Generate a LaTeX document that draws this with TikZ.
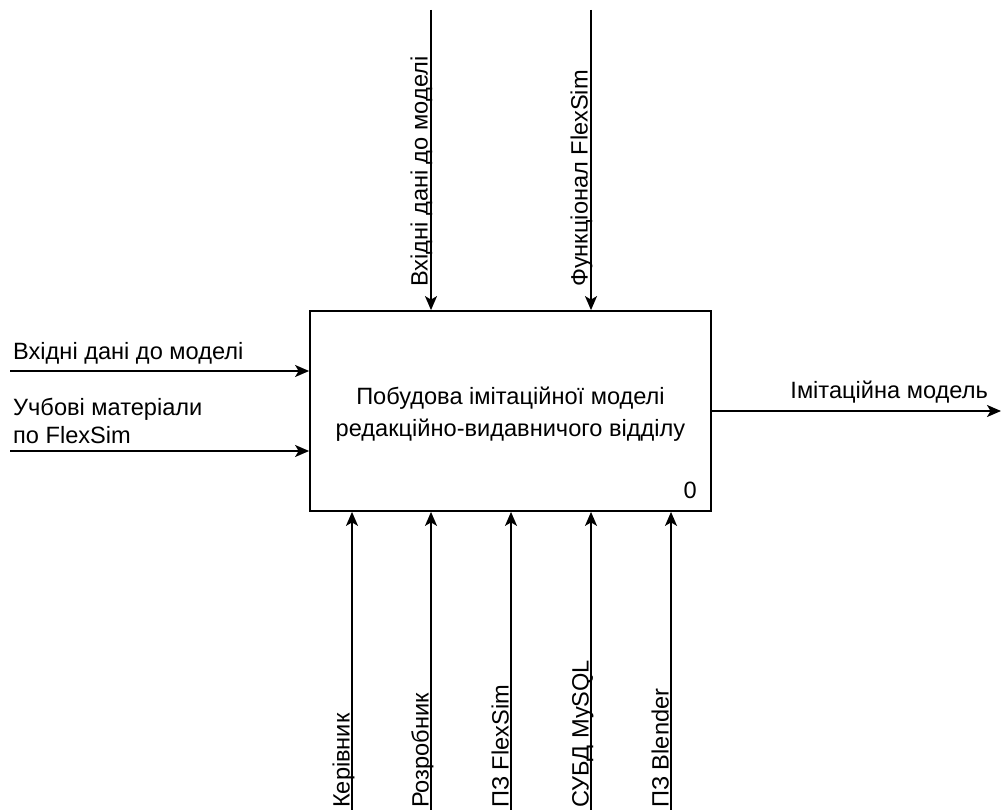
\documentclass[tikz,border=0pt]{standalone}
\usepackage{fontspec}
\setmainfont{Liberation Sans}
\usetikzlibrary{arrows.meta}
\begin{document}
\begin{tikzpicture}[x=1pt,y=-1pt,
  lbl/.style={font=\fontsize{23.6}{28}\selectfont, inner sep=0pt},
  vlbl/.style={lbl, rotate=90, anchor=base west},
  arr/.style={line width=1.7pt, -{Stealth[length=14pt,width=12pt,inset=3.5pt]}},
  boxst/.style={draw, line width=1.8pt, minimum width=401pt, minimum height=200pt, inner sep=0pt},
  titlest/.style={align=center, inner sep=0pt, font=\fontsize{23.6}{32}\selectfont}
  ]
\useasboundingbox (0,0) rectangle (1003,810);
\node[boxst] (box) at (510.5,411) {};
\node[titlest] (title) at (510.5,414) {Побудова імітаційної моделі\\редакційно-видавничого відділу};
\node[lbl, anchor=base east] (num) at (697,498) {0};
% inputs
\coordinate (i1) at (10,371);
\coordinate (i2) at (10,451);
\draw[arr] (i1) -- (i1 -| box.west);
\draw[arr] (i2) -- (i2 -| box.west);
\node[lbl, anchor=base west] (li1) at (13,359) {Вхідні дані до моделі};
\node[lbl, anchor=base west, align=left] (li2) at (13,443) {Учбові матеріали\\по FlexSim};
% controls
\coordinate (c1) at (431,10);
\coordinate (c2) at (591,10);
\draw[arr] (c1) -- (c1 |- box.north);
\draw[arr] (c2) -- (c2 |- box.north);
\node[vlbl] (lc1) at (427.5,287) {Вхідні дані до моделі};
\node[vlbl] (lc2) at (587.5,287) {Функціонал FlexSim};
% output
\coordinate (o1) at (1001,411);
\draw[arr] (box.east) -- (o1);
\node[lbl, anchor=base east] (lo1) at (988,398) {Імітаційна модель};
% mechanisms
\coordinate (m1) at (352,810);
\coordinate (m2) at (431,810);
\coordinate (m3) at (511,810);
\coordinate (m4) at (591,810);
\coordinate (m5) at (671,810);
\foreach \m in {m1,m2,m3,m4,m5} {\draw[arr] (\m) -- (\m |- box.south);}
\node[vlbl] (lm1) at (349.5,808) {Керівник};
\node[vlbl] (lm2) at (428.5,808) {Розробник};
\node[vlbl] (lm3) at (508.5,808) {ПЗ FlexSim};
\node[vlbl] (lm4) at (588.5,808) {СУБД MySQL};
\node[vlbl] (lm5) at (668.5,808) {ПЗ Blender};
\end{tikzpicture}
\end{document}
